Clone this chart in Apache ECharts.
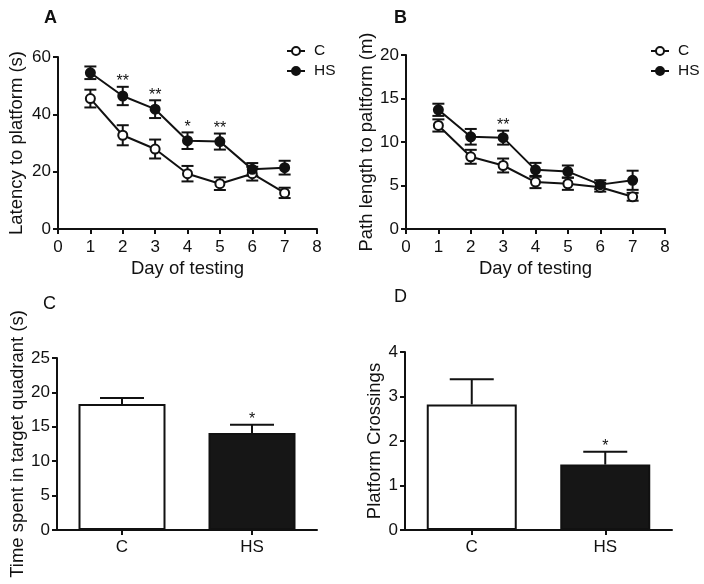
<!DOCTYPE html>
<html><head><meta charset="utf-8">
<script src="https://cdn.jsdelivr.net/npm/echarts@6/dist/echarts.min.js"></script>
<style>html,body{margin:0;padding:0;background:#fff}#c{width:704px;height:584px}</style>
</head><body><div id="c"></div>
<script>
// ---- data ----
const days = [1, 2, 3, 4, 5, 6, 7];
const latencyC = [45.5, 32.7, 27.9, 19.3, 15.8, 19.3, 12.6];
const latencyCErr = [3.1, 3.5, 3.3, 2.7, 2.2, 2.4, 1.8];
const latencyHS = [54.5, 46.4, 41.8, 30.8, 30.5, 20.8, 21.4];
const latencyHSErr = [2.2, 3.2, 3.1, 2.9, 2.8, 2.2, 2.4];
const latencyStars = ['', '**', '**', '*', '**', '', ''];
const pathC = [11.9, 8.3, 7.3, 5.4, 5.2, 4.8, 3.7];
const pathCErr = [0.7, 0.8, 0.8, 0.7, 0.7, 0.5, 0.45];
const pathHS = [13.7, 10.6, 10.5, 6.8, 6.6, 5.1, 5.6];
const pathHSErr = [0.7, 0.9, 0.8, 0.8, 0.7, 0.5, 1.1];
const pathStars = ['', '', '**', '', '', '', ''];
const groups = ['C', 'HS'];
const timeQuadrant = [18.3, 14.1];
const timeQuadrantErr = [0.9, 1.2];
const timeStars = ['', '*'];
const crossings = [2.82, 1.47];
const crossingsErr = [0.57, 0.29];
const crossingsStars = ['', '*'];
const xTicks = [0, 1, 2, 3, 4, 5, 6, 7, 8];

// ---- style helpers ----
const FONT = "'Liberation Sans', Arial, sans-serif";
const BLACK = '#111';
const axisLine = {show: true, onZero: false, lineStyle: {color: BLACK, width: 2}};
const axisTick = {show: true, length: 5, lineStyle: {color: BLACK, width: 2}};
const tickLabel = {color: BLACK, fontSize: 17, fontFamily: FONT};
const nameText = {color: BLACK, fontSize: 18.5, fontFamily: FONT};

function zip3(a, b, c) { return a.map((v, i) => [b === null ? i : b[i], v, c[i]]); }

function errRender(capHalf, both) {
  return function (params, api) {
    const x = api.value(0), y = api.value(1), e = api.value(2);
    const top = api.coord([x, y + e]);
    const bot = api.coord([x, both ? y - e : y]);
    const st = {stroke: BLACK, lineWidth: 2};
    const ch = [
      {type: 'line', shape: {x1: top[0], y1: top[1], x2: bot[0], y2: bot[1]}, style: st},
      {type: 'line', shape: {x1: top[0] - capHalf, y1: top[1], x2: top[0] + capHalf, y2: top[1]}, style: st}
    ];
    if (both) ch.push({type: 'line', shape: {x1: bot[0] - capHalf, y1: bot[1], x2: bot[0] + capHalf, y2: bot[1]}, style: st});
    return {type: 'group', children: ch};
  };
}
function starRender(stars) {
  return function (params, api) {
    const i = params.dataIndex;
    const s = stars[i];
    if (!s) return null;
    const p = api.coord([api.value(0), api.value(1) + api.value(2)]);
    return {type: 'text', x: p[0], y: p[1] + 3, style: {text: s, textAlign: 'center', textVerticalAlign: 'bottom', font: '16px ' + FONT, fill: BLACK}};
  };
}

function valueX(gi) {
  return {type: 'value', gridIndex: gi, min: 0, max: 8, interval: 1, axisLine, axisTick, splitLine: {show: false},
    axisLabel: Object.assign({margin: 10, formatter: v => xTicks.includes(v) ? String(v) : ''}, tickLabel),
    name: 'Day of testing', nameLocation: 'middle', nameGap: 30, nameTextStyle: nameText};
}
function valueY(gi, max, interval, name, gap) {
  return {type: 'value', gridIndex: gi, min: 0, max, interval, axisLine, axisTick, splitLine: {show: false},
    axisLabel: Object.assign({margin: 7}, tickLabel),
    name, nameLocation: 'middle', nameRotate: 90, nameGap: gap, nameTextStyle: nameText};
}
function catX(gi) {
  return {type: 'category', gridIndex: gi, data: groups, axisLine, axisTick: Object.assign({alignWithLabel: true}, axisTick),
    axisLabel: Object.assign({margin: 9}, tickLabel)};
}

function lineSeries(name, gi, vals, filled) {
  return {type: 'line', name, xAxisIndex: gi, yAxisIndex: gi, z: 5,
    data: vals.map((v, i) => [days[i], v]), symbol: 'circle', symbolSize: 9,
    lineStyle: {color: BLACK, width: 2},
    itemStyle: {color: filled ? BLACK : '#fff', borderColor: BLACK, borderWidth: 2},
    emphasis: {disabled: true}};
}
function errSeries(gi, vals, errs, capHalf, both, xs) {
  return {type: 'custom', xAxisIndex: gi, yAxisIndex: gi, z: 3,
    data: zip3(vals, xs, errs), renderItem: errRender(capHalf, both), silent: true};
}
function starSeries(gi, vals, errs, stars, xs) {
  return {type: 'custom', xAxisIndex: gi, yAxisIndex: gi, z: 6,
    data: zip3(vals, xs, errs), renderItem: starRender(stars), silent: true};
}
function legendAt(left) {
  return {data: ['C', 'HS'], orient: 'vertical', left, top: 38, itemWidth: 18, itemHeight: 10, itemGap: 4,
    textStyle: {color: BLACK, fontSize: 15.5, fontFamily: FONT, padding: [0, 0, 0, 4]}, selectedMode: false};
}

const chart = echarts.init(document.getElementById('c'), null, {renderer: 'canvas'});
chart.setOption({
  animation: false,
  backgroundColor: '#fff',
  textStyle: {fontFamily: FONT},
  grid: [
    {left: 58, top: 57, width: 259, height: 172},
    {left: 406, top: 55, width: 259, height: 174},
    {left: 57, top: 358, width: 260, height: 172},
    {left: 405, top: 352, width: 267, height: 178}
  ],
  legend: [legendAt(281), legendAt(645)],
  xAxis: [valueX(0), valueX(1), catX(2), catX(3)],
  yAxis: [
    valueY(0, 60, 20, 'Latency to platform (s)', 32),
    valueY(1, 20, 5, 'Path length to paltform (m)', 30),
    valueY(2, 25, 5, 'Time spent in target quadrant (s)', 26),
    valueY(3, 4, 1, 'Platform Crossings', 21)
  ],
  graphic: [
    {type: 'text', left: 44, top: 9, style: {text: 'A', font: 'bold 18px ' + FONT, fill: BLACK}},
    {type: 'text', left: 394, top: 9, style: {text: 'B', font: 'bold 18px ' + FONT, fill: BLACK}},
    {type: 'text', left: 43, top: 295, style: {text: 'C', font: '18px ' + FONT, fill: BLACK}},
    {type: 'text', left: 394, top: 288, style: {text: 'D', font: '18px ' + FONT, fill: BLACK}}
  ],
  series: [
    errSeries(0, latencyC, latencyCErr, 6, true, days),
    errSeries(0, latencyHS, latencyHSErr, 6, true, days),
    lineSeries('C', 0, latencyC, false),
    lineSeries('HS', 0, latencyHS, true),
    starSeries(0, latencyHS, latencyHSErr, latencyStars, days),
    errSeries(1, pathC, pathCErr, 6, true, days),
    errSeries(1, pathHS, pathHSErr, 6, true, days),
    lineSeries('C', 1, pathC, false),
    lineSeries('HS', 1, pathHS, true),
    starSeries(1, pathHS, pathHSErr, pathStars, days),
    {type: 'bar', xAxisIndex: 2, yAxisIndex: 2, barWidth: 87, z: 2,
      data: timeQuadrant.map((v, i) => ({value: v, itemStyle: {color: i === 0 ? '#fff' : '#161616', borderColor: BLACK, borderWidth: 2}})),
      emphasis: {disabled: true}},
    errSeries(2, timeQuadrant, timeQuadrantErr, 22, false, null),
    starSeries(2, timeQuadrant, timeQuadrantErr, timeStars, null),
    {type: 'bar', xAxisIndex: 3, yAxisIndex: 3, barWidth: 90, z: 2,
      data: crossings.map((v, i) => ({value: v, itemStyle: {color: i === 0 ? '#fff' : '#161616', borderColor: BLACK, borderWidth: 2}})),
      emphasis: {disabled: true}},
    errSeries(3, crossings, crossingsErr, 22, false, null),
    starSeries(3, crossings, crossingsErr, crossingsStars, null)
  ]
});
</script></body></html>
